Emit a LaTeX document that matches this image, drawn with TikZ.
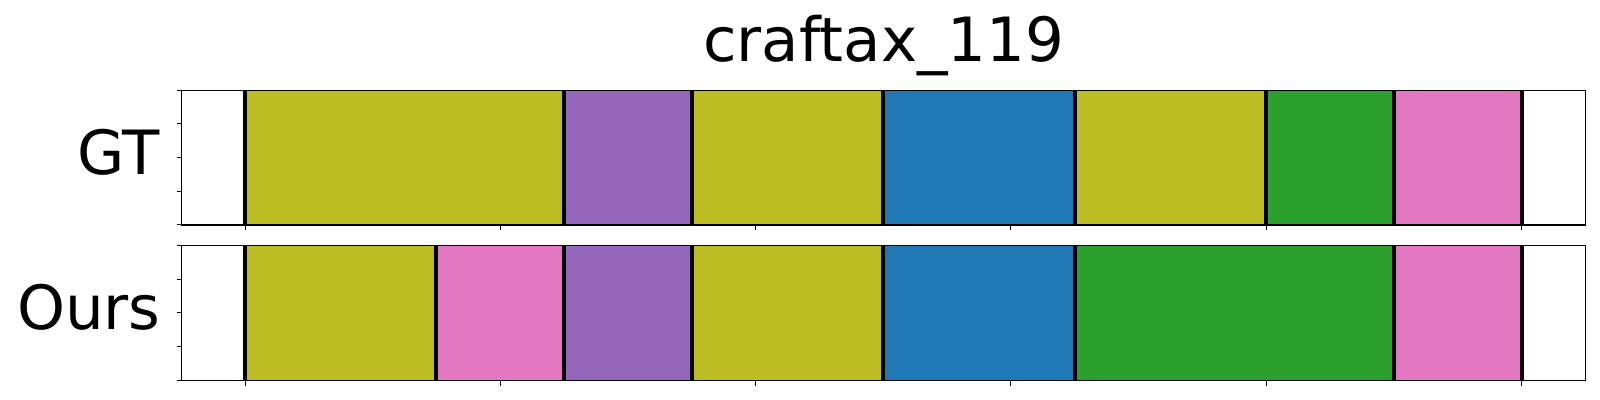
\documentclass[tikz,border=0pt]{standalone}
\usepackage{fontspec}
\setmainfont{DejaVu Sans}
\definecolor{tolive}{HTML}{BCBD22}
\definecolor{tpurple}{HTML}{9467BD}
\definecolor{tblue}{HTML}{1F77B4}
\definecolor{tgreen}{HTML}{2CA02C}
\definecolor{tpink}{HTML}{E377C2}
\begin{document}
\begin{tikzpicture}[x=0.5pt,y=-0.5pt,
  sepline/.style={line width=2pt,black},
  axframe/.style={line width=0.6pt,black},
  tickmark/.style={line width=0.5pt,black},
  lbl/.style={font=\fontsize{30.5}{36}\selectfont,inner sep=0pt,text=black}]
\useasboundingbox[fill=white] (0,0) rectangle (1600,400);
% title and row labels
\node[lbl,anchor=base] (title) at (883.7,61.7) {craftax\_119};
\node[lbl,anchor=base east] (gt) at (160,175) {GT};
\node[lbl,anchor=base east] (ours) at (161,330) {Ours};
% axes backgrounds
\fill[white] (181.7,90.3) rectangle (1585.7,225);
\fill[white] (181.7,245.3) rectangle (1585.7,380.3);
\begin{scope}[xshift=122.5pt,x=31.9125pt]
  % GT segments
  \foreach \a/\b/\c in {0/5/tolive,5/7/tpurple,7/10/tolive,10/13/tblue,13/16/tolive,16/18/tgreen,18/20/tpink}
    \fill[\c] (\a,90.3) rectangle (\b,225);
  \foreach \s in {0,5,7,10,13,16,18,20}
    \draw[sepline] (\s,90.3) -- (\s,225);
  % Ours segments
  \foreach \a/\b/\c in {0/3/tolive,3/5/tpink,5/7/tpurple,7/10/tolive,10/13/tblue,13/18/tgreen,18/20/tpink}
    \fill[\c] (\a,245.3) rectangle (\b,380.3);
  \foreach \s in {0,3,5,7,10,13,18,20}
    \draw[sepline] (\s,245.3) -- (\s,380.3);
  % x ticks
  \foreach \u in {0,4,8,12,16,20} {
    \draw[tickmark] (\u,225) -- (\u,230.5);
    \draw[tickmark] (\u,380.3) -- (\u,385.8);
  }
\end{scope}
% frames
\draw[axframe] (181.7,90.3) rectangle (1585.7,225);
\draw[axframe] (181.7,245.3) rectangle (1585.7,380.3);
% y ticks
\foreach \k in {0,1,2,3,4} {
  \draw[tickmark] (176.5,90.3+\k*33.675) -- (181.7,90.3+\k*33.675);
  \draw[tickmark] (176.5,245.3+\k*33.75) -- (181.7,245.3+\k*33.75);
}
\end{tikzpicture}
\end{document}
